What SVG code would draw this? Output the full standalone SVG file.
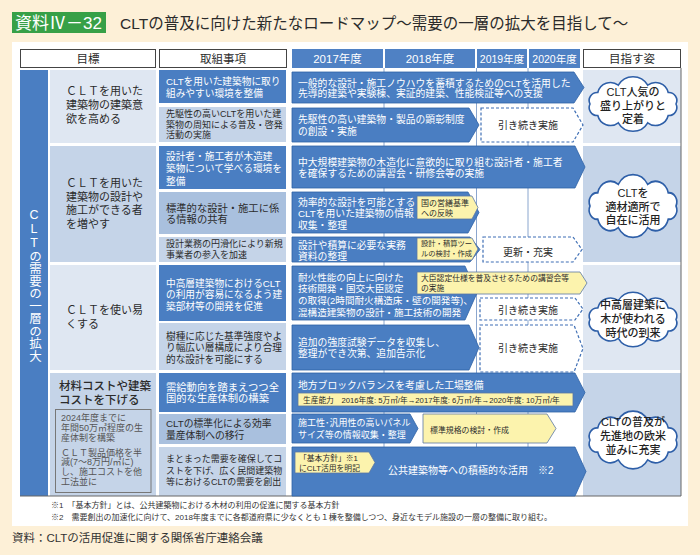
<svg xmlns="http://www.w3.org/2000/svg" width="700" height="555" viewBox="0 0 700 555">
<style>
text{font-family:"Liberation Sans","Noto Sans CJK JP",sans-serif;}
.w{fill:#fff}
.d{fill:#2b2b2b}
.g{fill:#555}
.bar{fill:#4A7EC2;stroke:#2F62A6;stroke-width:0.8}
.dash{fill:#fff;stroke:#3F6FB5;stroke-width:1.2;stroke-dasharray:3 2}
.tag{fill:#FCF3AD;stroke:#5A77A3;stroke-width:0.8}
.hb{fill:#4F81C4}
.hw{fill:#fff;stroke:#444;stroke-width:1}
.l1{fill:#DFE7F2}
.l2{fill:#C5D4E8}
.l3{fill:#A9C0DE}
.cl{fill:#fff;stroke:#2E5FA8;stroke-width:1.6}
.ct{font-size:11px;font-weight:500;fill:#222;text-anchor:middle}
.ft{font-size:8px;fill:#333}
</style>
<defs>
<path id="cloud" d="M43,0 A8,8 0 0 1 35.2,11.5 A13,13 0 0 1 14.7,18.8 A17,17 0 0 1 -14.7,18.8 A13,13 0 0 1 -35.2,11.5 A8,8 0 0 1 -43,0 A8,8 0 0 1 -35.2,-11.5 A13,13 0 0 1 -14.7,-18.8 A17,17 0 0 1 14.7,-18.8 A13,13 0 0 1 35.2,-11.5 A8,8 0 0 1 43,0 Z"/>
</defs>
<rect width="700" height="555" fill="#FDF0D7"/>
<g id="title">
<rect x="12" y="12" width="94" height="21" fill="#37A047"/>
<text x="15" y="28.5" font-size="17" class="w">資料Ⅳ－32</text>
<text x="120" y="29" font-size="15.5" class="d">CLTの普及に向けた新たなロードマップ～需要の一層の拡大を目指して～</text>
</g>
<rect x="12" y="42" width="676" height="484" fill="#fff"/>
<g id="header" font-size="11.5">
<rect class="hw" x="20.5" y="49.5" width="135" height="18"/>
<text x="88" y="62.5" class="d" text-anchor="middle">目標</text>
<rect class="hw" x="159.5" y="49.5" width="127" height="18"/>
<text x="223" y="62.5" class="d" text-anchor="middle">取組事項</text>
<rect class="hb" x="292" y="49" width="91" height="19"/>
<text x="337.5" y="62.5" class="w" text-anchor="middle">2017年度</text>
<rect class="hb" x="385" y="49" width="90" height="19"/>
<text x="430" y="62.5" class="w" text-anchor="middle">2018年度</text>
<rect class="hb" x="477" y="49" width="50" height="19"/>
<text x="502" y="62.5" class="w" text-anchor="middle" font-size="10.5">2019年度</text>
<rect class="hb" x="529" y="49" width="51" height="19"/>
<text x="554.5" y="62.5" class="w" text-anchor="middle" font-size="10.5">2020年度</text>
<rect class="hw" x="583.5" y="49.5" width="97" height="18"/>
<text x="632" y="62.5" class="d" text-anchor="middle">目指す姿</text>
</g>
<g id="main-goal">
<rect x="20" y="70" width="28" height="426" fill="#4A7EC2"/>
<text x="34" y="285" font-size="12.5" class="w" text-anchor="middle" style="writing-mode:vertical-rl;text-orientation:upright">CLTの需要の一層の拡大</text>
</g>
<g id="goal-1">
<rect class="l1" x="50" y="70" width="106" height="73"/>
<text font-size="11" class="d"><tspan x="66" y="94.5">ＣＬＴを用いた</tspan><tspan x="66" y="108.5">建築物の建築意</tspan><tspan x="66" y="122.5">欲を高める</tspan></text>
</g>
<g id="goal-2">
<rect class="l2" x="50" y="146" width="106" height="116"/>
<text font-size="11" class="d"><tspan x="66" y="187">ＣＬＴを用いた</tspan><tspan x="66" y="200.5">建築物の設計や</tspan><tspan x="66" y="214">施工ができる者</tspan><tspan x="66" y="227.5">を増やす</tspan></text>
</g>
<g id="goal-3">
<rect class="l1" x="50" y="265" width="106" height="105"/>
<text font-size="11" class="d"><tspan x="66" y="314">ＣＬＴを使い易</tspan><tspan x="66" y="327.5">くする</tspan></text>
</g>
<g id="goal-4">
<rect class="l2" x="50" y="373" width="106" height="123"/>
<text font-size="11.5" font-weight="500" class="d"><tspan x="59" y="390">材料コストや建築</tspan><tspan x="59" y="404">コストを下げる</tspan></text>
<rect x="55.5" y="409.5" width="95.5" height="83" fill="none" stroke="#777" stroke-width="1"/>
<text font-size="9" class="g"><tspan x="61" y="421">2024年度までに</tspan><tspan x="61" y="430.5">年間50万㎥程度の生</tspan><tspan x="61" y="441">産体制を構築</tspan><tspan x="61" y="455.5">ＣＬＴ製品価格を半</tspan><tspan x="61" y="465">減(7～8万円/㎥に)</tspan><tspan x="61" y="475">し、施工コストを他</tspan><tspan x="61" y="485">工法並に</tspan></text>
</g>
<g id="action-1"><rect x="159" y="70" width="127" height="33" fill="#4A7EC2"/>
<text font-size="9.7" class="w"><tspan x="166" y="84.5">CLTを用いた建築物に取り</tspan><tspan x="166" y="96.5">組みやすい環境を整備</tspan></text></g>
<g id="action-2"><rect class="l2" x="159" y="107" width="127" height="35"/>
<text font-size="9" class="d"><tspan x="166" y="117.3">先駆性の高いCLTを用いた建</tspan><tspan x="166" y="128.3">築物の周知による普及・啓発</tspan><tspan x="166" y="138.3">活動の実施</tspan></text></g>
<g id="action-3"><rect x="159" y="146" width="127" height="43" fill="#4A7EC2"/>
<text font-size="9.7" class="w"><tspan x="166" y="159.5">設計者・施工者が木造建</tspan><tspan x="166" y="171.5">築物について学べる環境を</tspan><tspan x="166" y="184.5">整備</tspan></text></g>
<g id="action-4"><rect class="l3" x="159" y="192" width="127" height="42"/>
<text font-size="10.3" class="d"><tspan x="166" y="211.8">標準的な設計・施工に係</tspan><tspan x="166" y="222.8">る情報の共有</tspan></text></g>
<g id="action-5"><rect class="l2" x="159" y="237" width="127" height="25"/>
<text font-size="9" class="d"><tspan x="166" y="247.3">設計業務の円滑化により新規</tspan><tspan x="166" y="258.3">事業者の参入を加速</tspan></text></g>
<g id="action-6"><rect x="159" y="265" width="127" height="56" fill="#4A7EC2"/>
<text font-size="9.7" class="w"><tspan x="166" y="286.5">中高層建築物におけるCLT</tspan><tspan x="166" y="298">の利用が容易になるよう建</tspan><tspan x="166" y="309.5">築部材等の開発を促進</tspan></text></g>
<g id="action-7"><rect class="l2" x="159" y="323" width="127" height="47"/>
<text font-size="9.7" class="d"><tspan x="166" y="339.5">樹種に応じた基準強度やよ</tspan><tspan x="166" y="351">り幅広い層構成により合理</tspan><tspan x="166" y="362.5">的な設計を可能にする</tspan></text></g>
<g id="action-8"><rect x="159" y="373" width="127" height="39" fill="#4A7EC2"/>
<text font-size="10.3" class="w"><tspan x="166" y="390.8">需給動向を踏まえつつ全</tspan><tspan x="166" y="402.3">国的な生産体制の構築</tspan></text></g>
<g id="action-9"><rect class="l3" x="159" y="414" width="127" height="30"/>
<text font-size="9.8" class="d"><tspan x="166" y="426.5">CLTの標準化による効率</tspan><tspan x="166" y="438.5">量産体制への移行</tspan></text></g>
<g id="action-10"><rect class="l2" x="159" y="447" width="127" height="49"/>
<text font-size="9" class="d"><tspan x="166" y="462.3">まとまった需要を確保してコ</tspan><tspan x="166" y="474">ストを下げ、広く民間建築物</tspan><tspan x="166" y="485.3">等におけるCLTの需要を創出</tspan></text></g>
<g id="vision-bg">
<rect class="l1" x="583" y="70" width="98" height="73"/>
<rect class="l2" x="583" y="146" width="98" height="116"/>
<rect class="l1" x="583" y="265" width="98" height="105"/>
<rect class="l2" x="583" y="373" width="98" height="123"/>
</g>
<g id="grid" stroke="#7E9CC8" stroke-width="0.9">
<line x1="384" y1="68" x2="384" y2="496"/>
<line x1="476.5" y1="68" x2="476.5" y2="496"/>
<line x1="528" y1="68" x2="528" y2="496"/>
<polyline points="20,496 681,496 681,68" fill="none" stroke="#666" stroke-width="1"/>
</g>
<g id="bar-1"><polygon class="bar" points="292,72 574,72 584,87.5 574,103 292,103"/>
<text font-size="9.8" class="w"><tspan x="298" y="86.5">一般的な設計・施工ノウハウを蓄積するためのCLTを活用した</tspan><tspan x="298" y="97">先導的建築や実験棟、実証的建築、性能検証等への支援</tspan></text></g>
<g id="bar-2"><polygon class="bar" points="292,108 469,108 479,125 469,142 292,142"/>
<text font-size="9.8" class="w"><tspan x="298" y="122.5">先駆性の高い建築物・製品の顕彰制度</tspan><tspan x="298" y="134.5">の創設・実施</tspan></text></g>
<g id="cont-1"><polygon class="dash" points="481,108 573,108 583,125 573,142 481,142"/>
<text x="528" y="128.6" font-size="10" class="d" text-anchor="middle">引き続き実施</text></g>
<g id="bar-3"><polygon class="bar" points="292,146 575,146 585,167 575,188 292,188"/>
<text font-size="9.8" class="w"><tspan x="298" y="165.5">中大規模建築物の木造化に意欲的に取り組む設計者・施工者</tspan><tspan x="298" y="176.5">を確保するための講習会・研修会等の実施</tspan></text></g>
<g id="bar-4"><polygon class="bar" points="292,192 468,192 479,212.5 468,233 292,233"/>
<text font-size="9.8" class="w"><tspan x="298" y="205.5">効率的な設計を可能とする</tspan><tspan x="298" y="216.5">CLTを用いた建築物の情報</tspan><tspan x="298" y="228.5">収集・整理</tspan></text></g>
<g id="tag-1"><polygon class="tag" points="417,196 472,196 478,207.5 472,219 417,219"/>
<text font-size="8" class="d"><tspan x="421" y="206">国の営繕基準</tspan><tspan x="421" y="216">への反映</tspan></text></g>
<g id="bar-5"><polygon class="bar" points="292,237 470,237 480,249.5 470,262 292,262"/>
<text font-size="9.8" class="w"><tspan x="298" y="248.5">設計や積算に必要な実務</tspan><tspan x="298" y="260">資料の整理</tspan></text></g>
<g id="tag-2"><polygon class="tag" points="417,238 472,238 478,249 472,260 417,260"/>
<text font-size="7.3" class="d"><tspan x="421" y="246">設計・積算ツー</tspan><tspan x="421" y="256">ルの検討・作成</tspan></text></g>
<g id="cont-2"><polygon class="dash" points="483,237 573,237 582,249.5 573,262 483,262"/>
<text x="528" y="255.6" font-size="10" class="d" text-anchor="middle">更新・充実</text></g>
<g id="bar-6"><polygon class="bar" points="292,266 465,266 477,293 465,320 292,320"/>
<text font-size="9.6" class="w"><tspan x="298" y="280.5">耐火性能の向上に向けた</tspan><tspan x="298" y="291.5">技術開発・国交大臣認定</tspan><tspan x="298" y="303.5">の取得(2時間耐火構造床・壁の開発等)、</tspan><tspan x="298" y="315.5">混構造建築物の設計・施工技術の開発</tspan></text></g>
<g id="tag-3"><polygon class="tag" points="417,272 580,272 587,283 580,294 417,294"/>
<text font-size="7.8" class="d"><tspan x="421" y="281">大臣認定仕様を普及させるための講習会等</tspan><tspan x="421" y="291">の実施</tspan></text></g>
<g id="cont-3"><polygon class="dash" points="480,298 575,298 583,309 575,320 480,320"/>
<text x="528" y="313.6" font-size="10" class="d" text-anchor="middle">引き続き実施</text></g>
<g id="bar-7"><polygon class="bar" points="292,325 469,325 479,347.5 469,370 292,370"/>
<text font-size="9.8" class="w"><tspan x="298" y="345.5">追加の強度試験データを収集し、</tspan><tspan x="298" y="356.5">整理ができ次第、追加告示化</tspan></text></g>
<g id="cont-4"><polygon class="dash" points="480,325 574,325 583,348.5 574,372 480,372"/>
<text x="528" y="351.6" font-size="10" class="d" text-anchor="middle">引き続き実施</text></g>
<g id="bar-8"><polygon class="bar" points="292,373 575,373 585,392.5 575,412 292,412"/>
<text x="298" y="388.5" font-size="9.8" class="w">地方ブロックバランスを考慮した工場整備</text>
<rect class="tag" x="298" y="393" width="275" height="13"/>
<text x="303" y="402.8" font-size="7.7" class="d">生産能力　2016年度: 5万㎥/年→2017年度: 6万㎥/年→2020年度: 10万㎥/年</text></g>
<g id="bar-9"><polygon class="bar" points="292,414 410,414 418,428.5 410,443 292,443"/>
<text font-size="9" class="w"><tspan x="298" y="426">施工性･汎用性の高いパネル</tspan><tspan x="298" y="438">サイズ等の情報収集・整理</tspan></text></g>
<g id="tag-4"><polygon class="tag" points="423,414 547,414 556,428.5 547,443 423,443"/>
<text x="430" y="433" font-size="7.9" class="d">標準規格の検討・作成</text></g>
<g id="bar-10"><polygon class="bar" points="292,447 575,447 586,471.5 575,496 292,496"/>
<text x="388" y="474" font-size="10" class="w">公共建築物等への積極的な活用　※2</text></g>
<g id="tag-5"><polygon class="tag" points="295,452 369,452 375,462.5 369,473 295,473"/>
<text font-size="7.8" class="d"><tspan x="299" y="460.5">「基本方針」※1</tspan><tspan x="299" y="470.5">にCLT活用を明記</tspan></text></g>
<g id="vision-1"><use href="#cloud" class="cl" transform="translate(633,104)"/>
<text class="ct"><tspan x="633" y="96">CLT人気の</tspan><tspan x="633" y="109.5">盛り上がりと</tspan><tspan x="633" y="123">定着</tspan></text></g>
<g id="vision-2"><use href="#cloud" class="cl" transform="translate(633,206) scale(1,1.15)"/>
<text class="ct"><tspan x="633" y="197">CLTを</tspan><tspan x="633" y="210.5">適材適所で</tspan><tspan x="633" y="224">自在に活用</tspan></text></g>
<g id="vision-3"><use href="#cloud" class="cl" transform="translate(633,319.5)"/>
<text class="ct"><tspan x="633" y="309">中高層建築に</tspan><tspan x="633" y="323">木が使われる</tspan><tspan x="633" y="337">時代の到来</tspan></text></g>
<g id="vision-4"><use href="#cloud" class="cl" transform="translate(633,440) scale(1,1.06)"/>
<text class="ct"><tspan x="633" y="426">CLTの普及が</tspan><tspan x="633" y="440">先進地の欧米</tspan><tspan x="633" y="453.5">並みに充実</tspan></text></g>
<g id="notes">
<text x="51" y="508" class="ft">※1　「基本方針」とは、公共建築物における木材の利用の促進に関する基本方針</text>
<text x="51" y="519.5" class="ft">※2　需要創出の加速化に向けて、2018年度までに各都道府県に少なくとも１棟を整備しつつ、身近なモデル施設の一層の整備に取り組む。</text>
<text x="12" y="542" font-size="11.5" fill="#333">資料：CLTの活用促進に関する関係省庁連絡会議</text>
</g>
</svg>
